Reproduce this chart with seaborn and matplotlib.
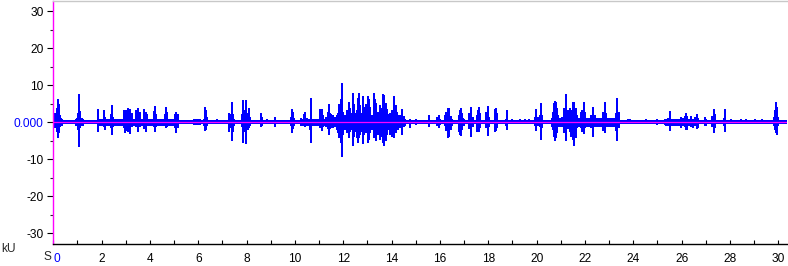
import numpy as np
import pandas as pd
import matplotlib
matplotlib.use("Agg")
import matplotlib.pyplot as plt
import seaborn as sns
from matplotlib.ticker import MultipleLocator

# ---- data (time in s, amplitude in kU) ----
spike_t = [
    0.09, 0.14, 0.18, 0.23, 0.28, 0.33,
    0.98, 1.01, 1.05, 1.08, 1.12, 1.17,
    1.87, 2.09, 2.12, 2.18, 2.40, 2.44, 2.48, 2.78, 2.91, 2.95, 3.00, 3.03, 3.10, 3.17, 3.25,
    3.41, 3.46, 3.52, 3.57, 3.77, 3.84, 3.89, 4.17, 4.21, 4.27, 4.40, 4.64, 4.68, 4.72,
    5.04, 5.08, 5.14, 6.26, 6.28, 6.33, 6.37, 6.78,
    7.29, 7.33, 7.38, 7.42, 7.47, 7.81, 7.86, 7.92, 7.99, 8.04, 8.08, 8.13,
    8.59, 8.63, 8.84, 9.16, 9.83, 9.88, 9.92, 9.98,
    10.24, 10.38, 10.42, 10.48, 10.61, 10.68, 10.74, 11.04, 11.10, 11.14,
    11.28, 11.35, 11.39, 11.42, 11.44, 11.51, 11.59, 11.66,
    11.73, 11.79, 11.84, 11.90, 11.94, 12.00, 12.05, 12.15, 12.22, 12.27, 12.33,
    12.39, 12.43, 12.45, 12.49, 12.56, 12.62, 12.66, 12.70, 12.74,
    12.80, 12.84, 12.90, 12.94, 13.01, 13.08, 13.12, 13.17, 13.25, 13.31, 13.36, 13.42,
    13.47, 13.53, 13.59, 13.64, 13.70, 13.75, 13.81, 13.86,
    13.95, 14.02, 14.07, 14.11, 14.17, 14.22, 14.36, 14.43, 14.50, 14.78, 15.01,
    15.55, 15.88, 15.95, 15.99, 16.22, 16.27, 16.32, 16.38, 16.44, 16.49,
    16.80, 16.84, 16.89, 16.93, 16.99, 17.21, 17.29, 17.35, 17.52, 17.56, 17.61, 17.67,
    17.90, 18.00, 18.04, 18.27, 18.33, 18.37, 18.73, 18.79, 19.00, 19.30, 19.50, 19.70,
    19.94, 19.99, 20.04, 20.12, 20.18, 20.24,
    20.66, 20.70, 20.75, 20.80, 20.84, 20.88, 21.07, 21.14, 21.18, 21.22, 21.28,
    21.39, 21.44, 21.50, 21.55, 21.61, 21.66, 21.83, 21.88, 21.97, 22.02,
    22.27, 22.34, 22.41, 22.75, 22.82, 22.88, 23.27, 23.33, 23.39,
    23.76, 23.87, 24.52, 25.00, 25.33, 25.43, 25.53, 25.61,
    25.98, 26.05, 26.12, 26.19, 26.23, 26.40, 26.46, 26.56, 26.63, 26.67,
    26.97, 27.01, 27.26, 27.35, 27.39, 27.75, 27.81,
    28.05, 28.46, 28.67, 29.05, 29.33, 29.84, 29.88, 29.91, 29.95, 29.99,
]
spike_hi = [
    2.4, 3.8, 6.3, 4.9, 2.0, 1.2,
    1.2, 2.6, 7.0, 7.5, 3.0, 1.2,
    3.5, 3.3, 1.5, 0.7, 2.1, 4.6, 1.5, 1.0, 3.4, 3.0, 3.3, 0.9, 3.8, 3.6, 2.4,
    3.3, 2.9, 3.8, 2.9, 3.5, 2.9, 2.2, 3.1, 4.4, 2.2, 1.0, 2.2, 4.2, 2.9,
    2.2, 2.9, 2.2, 2.9, 4.0, 3.3, 1.5, 0.9,
    2.4, 2.2, 5.4, 2.2, 1.0, 2.2, 6.0, 3.3, 6.0, 2.4, 3.8, 1.5,
    2.4, 1.5, 0.8, 1.5, 1.5, 3.5, 2.9, 1.2,
    1.2, 2.2, 2.9, 1.2, 1.0, 6.5, 1.0, 3.5, 3.5, 2.0,
    1.5, 2.9, 4.8, 2.5, 2.4, 2.2, 1.9, 1.5,
    2.0, 2.4, 4.9, 6.3, 10.5, 2.9, 2.0, 3.3, 5.4, 3.8, 2.4,
    8.0, 4.9, 2.9, 2.4, 3.3, 6.5, 8.0, 4.7, 2.4,
    7.0, 4.2, 2.9, 5.0, 7.0, 6.3, 4.2, 2.0, 8.0, 6.3, 5.1, 2.9,
    2.2, 4.7, 3.8, 7.6, 7.4, 5.1, 3.6, 2.2,
    2.4, 3.3, 2.0, 7.0, 4.7, 2.9, 2.0, 3.6, 1.8, 0.8, 1.0,
    2.0, 1.4, 1.9, 1.0, 2.0, 2.9, 3.9, 3.9, 1.8, 1.0,
    2.0, 3.2, 3.9, 2.6, 1.0, 2.4, 4.0, 1.5, 2.0, 3.3, 4.0, 2.4,
    2.9, 4.3, 1.5, 3.6, 3.8, 2.4, 1.0, 3.3, 0.9, 0.9, 0.9, 0.9,
    1.3, 3.7, 1.5, 2.0, 5.1, 2.0,
    2.9, 5.1, 5.8, 5.6, 3.8, 2.0, 1.5, 3.8, 3.3, 7.5, 3.3,
    3.8, 3.3, 5.6, 5.4, 3.8, 2.0, 2.9, 3.3, 5.4, 2.9,
    2.0, 4.0, 2.0, 2.9, 5.4, 2.4, 2.4, 6.6, 2.9,
    0.9, 0.9, 0.8, 0.9, 0.9, 1.2, 3.0, 1.0,
    1.5, 1.2, 1.8, 2.5, 1.8, 1.8, 1.0, 1.5, 2.1, 1.2,
    1.5, 1.0, 1.8, 3.5, 2.2, 1.2, 3.5,
    0.8, 0.8, 0.8, 0.8, 0.8, 1.5, 3.3, 5.4, 4.2, 1.5,
]
spike_lo = [
    -1.5, -2.5, -4.3, -3.0, -1.2, -1.0,
    -1.0, -2.0, -5.1, -6.8, -1.6, -1.0,
    -2.5, -1.2, -2.2, -0.8, -1.6, -3.4, -1.2, -0.8, -1.6, -3.0, -2.4, -1.0, -2.5, -3.1, -1.3,
    -1.4, -1.0, -2.5, -1.2, -1.8, -2.5, -1.0, -1.2, -2.5, -1.3, -0.7, -1.0, -1.6, -1.2,
    -1.5, -3.0, -1.6, -1.5, -2.3, -2.0, -1.0, -0.6,
    -2.5, -1.5, -5.1, -2.5, -0.8, -1.2, -5.6, -2.5, -5.8, -2.0, -1.6, -1.0,
    -1.4, -1.0, -0.6, -1.2, -1.0, -3.0, -1.8, -1.0,
    -0.9, -1.0, -1.2, -0.8, -2.0, -5.6, -0.9, -1.5, -2.3, -1.2,
    -1.2, -1.8, -3.5, -3.5, -1.8, -1.5, -1.5, -1.2,
    -1.5, -3.0, -4.3, -5.6, -9.5, -3.4, -2.0, -3.0, -4.3, -2.5, -2.0,
    -6.5, -3.9, -3.0, -2.5, -4.3, -5.6, -4.3, -3.4, -2.5,
    -6.0, -3.4, -2.5, -3.0, -5.6, -4.7, -3.0, -2.2, -4.3, -3.4, -5.2, -3.4,
    -2.2, -4.7, -4.1, -5.6, -6.5, -5.2, -3.4, -2.0,
    -3.4, -3.9, -2.5, -4.3, -3.0, -1.8, -1.5, -3.4, -1.2, -1.5, -0.7,
    -1.4, -0.9, -1.6, -0.8, -1.0, -2.3, -4.2, -4.0, -2.0, -1.0,
    -2.5, -3.4, -3.6, -2.0, -1.0, -1.8, -4.0, -1.2, -2.5, -2.7, -2.5, -1.5,
    -1.5, -3.6, -1.2, -2.5, -2.3, -1.6, -1.0, -2.0, -0.6, -0.6, -0.6, -0.6,
    -0.9, -2.3, -1.0, -1.2, -4.9, -1.5,
    -2.0, -3.9, -5.0, -4.3, -3.0, -1.2, -1.0, -3.0, -3.0, -5.2, -1.8,
    -2.5, -3.9, -4.7, -6.5, -4.3, -1.5, -1.6, -2.5, -3.1, -1.5,
    -1.6, -4.0, -1.2, -2.3, -2.9, -1.2, -2.3, -5.2, -1.5,
    -0.6, -0.6, -0.6, -0.8, -0.8, -1.0, -2.3, -0.8,
    -1.5, -1.0, -1.2, -2.0, -2.2, -1.2, -1.5, -1.0, -1.8, -1.5,
    -1.0, -0.9, -1.2, -2.9, -1.5, -1.0, -2.5,
    -0.6, -0.6, -0.6, -0.6, -0.6, -0.8, -2.0, -2.9, -3.4, -1.0,
]
# background noise level and busier stretches
noise_amp = 0.55
band_start = [0.0, 0.9, 1.8, 4.9, 5.8, 6.2, 7.25, 7.8, 9.8, 10.2, 11.7, 14.3, 16.2, 16.75, 20.6, 25.3, 29.8]
band_end   = [0.4, 1.25, 4.9, 5.2, 6.1, 6.4, 7.5, 8.15, 10.0, 11.7, 14.3, 14.6, 16.5, 17.0, 23.4, 26.7, 30.0]
band_amp   = [1.0, 1.0, 0.9, 1.0, 0.8, 1.0, 1.0, 1.1, 0.9, 1.0, 2.0, 1.0, 1.2, 1.1, 1.2, 0.9, 1.0]

x_ticks = list(range(0, 31, 2))
x_tick_labels = [str(v) for v in x_ticks]
y_ticks = [30, 20, 10, 0, -10, -20, -30]
y_tick_labels = ["30", "20", "10", "0.000", "-10", "-20", "-30"]
x_max = 30.36
y_lim = 32.9

# ---- style ----
sns.set_style("ticks")
plt.rcParams["font.family"] = ["Liberation Sans", "DejaVu Sans"]

BLUE = "#0000FF"
MAGENTA = "#FF00FF"

W, H = 788, 266
fig = plt.figure(figsize=(W / 100, H / 100), dpi=100)
ax = fig.add_axes([53.3 / W, (H - 244) / H, (787 - 53.3) / W, 243.5 / H])

# noise floor
ax.fill_between([0, x_max], [-noise_amp, -noise_amp], [noise_amp, noise_amp],
                color=BLUE, lw=0)
for s, e, a in zip(band_start, band_end, band_amp):
    ax.fill_between([s, e], [-a, -a], [a, a], color=BLUE, lw=0)

# spikes
ax.vlines(spike_t, spike_lo, spike_hi, color=BLUE, lw=1.4, antialiased=False)

# zero line
zero_df = pd.DataFrame({"t": [0, x_max], "v": [0, 0]})
sns.lineplot(data=zero_df, x="t", y="v", ax=ax, color=MAGENTA, lw=0.9)

ax.set_xlim(0, x_max)
ax.set_ylim(-y_lim, y_lim)
ax.set_xlabel("")
ax.set_ylabel("")

ax.set_xticks(x_ticks)
ax.set_xticklabels(x_tick_labels)
ax.xaxis.set_minor_locator(MultipleLocator(1))
ax.set_yticks(y_ticks)
ax.set_yticklabels(y_tick_labels)
ax.yaxis.set_minor_locator(MultipleLocator(5))

ax.tick_params(axis="x", which="both", direction="in", length=3, width=0.8,
               pad=6.5, labelsize=8.6, colors="black")
ax.tick_params(axis="y", which="major", direction="out", length=4, width=0.8,
               pad=3, labelsize=8.6, colors="black")
ax.tick_params(axis="y", which="minor", direction="out", length=2.5, width=0.8)

for lab in ax.get_yticklabels():
    if lab.get_text() == "0.000":
        lab.set_color(BLUE)
xl = ax.get_xticklabels()
xl[0].set_color(BLUE)
xl[0].set_ha("left")

for side in ["left", "bottom", "top", "right"]:
    ax.spines[side].set_visible(True)
ax.spines["left"].set_color(MAGENTA)
ax.spines["left"].set_linewidth(1.0)
ax.spines["bottom"].set_color("black")
ax.spines["bottom"].set_linewidth(1.0)
ax.spines["top"].set_color("#c8c8c8")
ax.spines["top"].set_linewidth(1.0)
ax.spines["right"].set_visible(False)

fig.text(1 / W, 1 - 249 / H, "kU", ha="left", va="center", fontsize=8.6)
fig.text(51 / W, 1 - 257 / H, "S", ha="right", va="center", fontsize=8.6)

fig.savefig("out.png", dpi=100)
